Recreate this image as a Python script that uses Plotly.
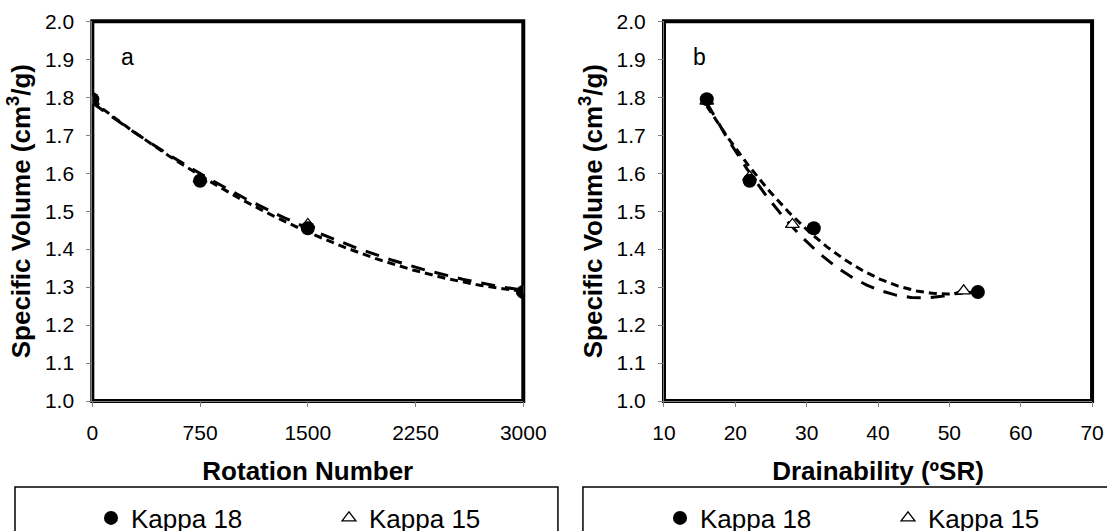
import numpy as np
import plotly.graph_objects as go
from plotly.subplots import make_subplots

# Panel a: specific volume vs PFI rotation number
rot_k18 = [0, 750, 1500, 3000]
sv_rot_k18 = [1.795, 1.58, 1.455, 1.287]
rot_k15 = [0, 750, 1500, 3000]
sv_rot_k15 = [1.79, 1.585, 1.465, 1.29]

# Panel b: specific volume vs drainability (ºSR)
sr_k18 = [16, 22, 31, 54]
sv_sr_k18 = [1.795, 1.58, 1.455, 1.287]
sr_k15 = [16, 22, 28, 52]
sv_sr_k15 = [1.79, 1.59, 1.465, 1.29]

x_ticks_a = [0, 750, 1500, 2250, 3000]
x_ticks_b = [10, 20, 30, 40, 50, 60, 70]
y_ticks = [1.0, 1.1, 1.2, 1.3, 1.4, 1.5, 1.6, 1.7, 1.8, 1.9, 2.0]

FONT = "Liberation Sans, Arial, sans-serif"
SHORT_DASH = "8px,5px"
LONG_DASH = "14px,10px"


def trend(x, y, n=200):
    """Second-order polynomial trendline over the range of the data."""
    c = np.polyfit(x, y, 2)
    xs = np.linspace(min(x), max(x), n)
    return xs, np.polyval(c, xs)


fig = make_subplots(rows=1, cols=2)

panels = [
    (1, "legend", (rot_k18, sv_rot_k18), (rot_k15, sv_rot_k15)),
    (2, "legend2", (sr_k18, sv_sr_k18), (sr_k15, sv_sr_k15)),
]

for col, leg, k18, k15 in panels:
    # trendlines
    xs, ys = trend(*k15)
    fig.add_trace(go.Scatter(x=xs, y=ys, mode="lines", showlegend=False, hoverinfo="skip",
                             line=dict(color="black", width=3, dash=LONG_DASH)), row=1, col=col)
    xs, ys = trend(*k18)
    fig.add_trace(go.Scatter(x=xs, y=ys, mode="lines", showlegend=False, hoverinfo="skip",
                             line=dict(color="black", width=3, dash=SHORT_DASH)), row=1, col=col)
    # data points (triangles under circles)
    fig.add_trace(go.Scatter(x=k15[0], y=k15[1], mode="markers", name="Kappa 15",
                             legend=leg, legendrank=2,
                             marker=dict(symbol="triangle-up", size=12, color="white",
                                         line=dict(color="black", width=1.3))), row=1, col=col)
    fig.add_trace(go.Scatter(x=k18[0], y=k18[1], mode="markers", name="Kappa 18",
                             legend=leg, legendrank=1,
                             marker=dict(symbol="circle", size=14, color="black",
                                         line=dict(color="black", width=0))), row=1, col=col)

axis_common = dict(
    showgrid=False, zeroline=False, showline=True, linecolor="#808080", linewidth=1,
    ticks="outside", ticklen=5, tickcolor="#808080", tickwidth=1, automargin=False,
    tickfont=dict(family=FONT, size=21, color="black"),
)

fig.update_xaxes(axis_common)
fig.update_yaxes(axis_common)

fig.update_xaxes(range=[0, 3000], tickvals=x_ticks_a, domain=[0.0834, 0.4727],
                 ticklabelstandoff=8,
                 title=dict(text="<b>Rotation Number</b>", standoff=18,
                            font=dict(family=FONT, size=26, color="black")),
                 row=1, col=1)
fig.update_xaxes(range=[10, 70], tickvals=x_ticks_b, domain=[0.5998, 0.9865],
                 ticklabelstandoff=8,
                 title=dict(text="<b>Drainability (ºSR)</b>", standoff=18,
                            font=dict(family=FONT, size=26, color="black")),
                 row=1, col=2)
fig.update_yaxes(range=[1.0, 2.0], tickvals=y_ticks, tickformat=".1f", domain=[0.2448, 0.9599],
                 ticklabelstandoff=8,
                 title=dict(text="<b>Specific Volume (cm<sup>3</sup>/g)</b>", standoff=6,
                            font=dict(family=FONT, size=26, color="black")))

# Heavy chart frames
for xr in ("x domain", "x2 domain"):
    yr = "y domain" if xr == "x domain" else "y2 domain"
    fig.add_shape(type="rect", xref=xr, yref=yr, x0=0, x1=1, y0=0, y1=1,
                  line=dict(color="black", width=4), layer="below")

# Panel letters
fig.add_annotation(text="a", x=242, y=1.906, xref="x", yref="y", showarrow=False,
                   font=dict(family=FONT, size=23, color="black"))
fig.add_annotation(text="b", x=15, y=1.906, xref="x2", yref="y2", showarrow=False,
                   font=dict(family=FONT, size=23, color="black"))

# Legend boxes
fig.add_shape(type="rect", xref="paper", yref="paper", x0=0.01355, x1=0.504, y0=-0.05, y1=0.0829,
              line=dict(color="black", width=1.5))
fig.add_shape(type="rect", xref="paper", yref="paper", x0=0.5266, x1=1.05, y0=-0.05, y1=0.0829,
              line=dict(color="black", width=1.5))

legend_common = dict(orientation="h", yanchor="middle", y=0.0245, xanchor="left",
                     bgcolor="rgba(0,0,0,0)", borderwidth=0, entrywidthmode="pixels",
                     font=dict(family=FONT, size=26, color="black"))

fig.update_layout(
    width=1107, height=531,
    margin=dict(l=0, r=0, t=0, b=0, autoexpand=False),
    paper_bgcolor="white", plot_bgcolor="white",
    legend=dict(legend_common, x=91 / 1107, entrywidth=193),
    legend2=dict(legend_common, x=660 / 1107, entrywidth=183),
    showlegend=True,
)

fig.write_html("out.html")
